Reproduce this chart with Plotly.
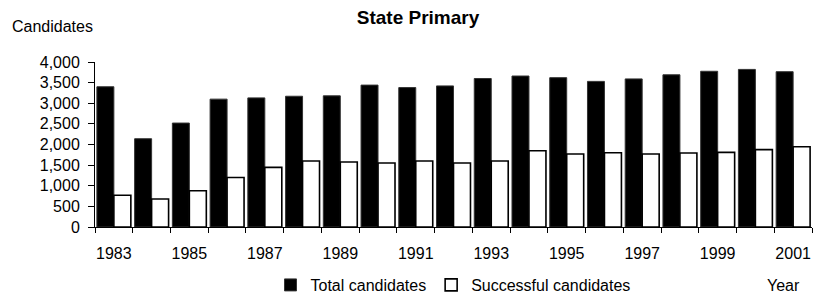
import plotly.graph_objects as go

years = list(range(1983, 2002))
total_candidates = [3400, 2140, 2520, 3100, 3130, 3170, 3180, 3440, 3380, 3420,
                    3600, 3660, 3620, 3530, 3590, 3690, 3775, 3820, 3765]
successful_candidates = [770, 680, 880, 1200, 1445, 1600, 1575, 1550, 1600, 1550,
                         1600, 1850, 1770, 1800, 1770, 1795, 1810, 1875, 1945]
x_tick_years = list(range(1983, 2002, 2))
y_ticks = list(range(0, 4001, 500))

FONT = "Liberation Sans, Arial, sans-serif"

fig = go.Figure()
fig.add_trace(go.Bar(
    x=years, y=total_candidates, name="Total candidates",
    marker=dict(color="black", line=dict(color="#333333", width=1)),
))
fig.add_trace(go.Bar(
    x=years, y=successful_candidates, name="Successful candidates",
    marker=dict(color="white", line=dict(color="black", width=1.6)),
))

W, H = 820, 298
L, R, T, B = 95, 8, 62, 71
pw, ph = W - L - R, H - T - B

fig.update_layout(
    width=W, height=H,
    margin=dict(l=L, r=R, t=T, b=B, pad=0, autoexpand=False),
    paper_bgcolor="white", plot_bgcolor="white",
    font=dict(family=FONT, size=16, color="black"),
    barmode="group", bargap=0.1, bargroupgap=0,
    title=dict(text="<b>State Primary</b>", font=dict(size=19, family=FONT, color="black"),
               x=418 / W, xref="container", xanchor="center",
               y=1 - 17 / H, yref="container", yanchor="middle"),
    showlegend=True,
    legend=dict(orientation="h", x=(453 - L) / pw, xanchor="center",
                yref="container", y=1 - 285 / H, yanchor="middle",
                font=dict(size=16, family=FONT, color="black"),
                itemwidth=30, tracegroupgap=0, bgcolor="rgba(0,0,0,0)"),
    xaxis=dict(
        range=[1982.5, 2001.5], tickmode="array", tickvals=x_tick_years,
        ticktext=[str(y) for y in x_tick_years], ticks="",
        showline=True, linecolor="black", linewidth=1,
        showgrid=False, zeroline=False, ticklabelstandoff=12,
        minor=dict(tick0=1982.5, dtick=1, ticks="outside", ticklen=5,
                   tickcolor="black", tickwidth=1, showgrid=False),
        automargin=False, fixedrange=True,
    ),
    yaxis=dict(
        range=[0, 4000], tickmode="array", tickvals=y_ticks,
        ticktext=[f"{v:,}" for v in y_ticks],
        ticks="outside", ticklen=6, tickcolor="black", tickwidth=1,
        showline=True, linecolor="black", linewidth=1,
        showgrid=False, zeroline=False, ticklabelstandoff=5,
        automargin=False, fixedrange=True,
    ),
    annotations=[
        dict(text="Candidates", xref="paper", yref="paper",
             x=(10 - L) / pw, y=(227 - 27) / ph, xanchor="left", yanchor="middle",
             showarrow=False, font=dict(size=16, family=FONT, color="black")),
        dict(text="Year", xref="paper", yref="paper",
             x=(765 - L) / pw, y=(227 - 285) / ph, xanchor="left", yanchor="middle",
             showarrow=False, font=dict(size=16, family=FONT, color="black")),
    ],
)

fig.write_html("out.html", config={"displayModeBar": False},
               post_script="document.body.style.margin='0';document.body.style.overflow='hidden';")
